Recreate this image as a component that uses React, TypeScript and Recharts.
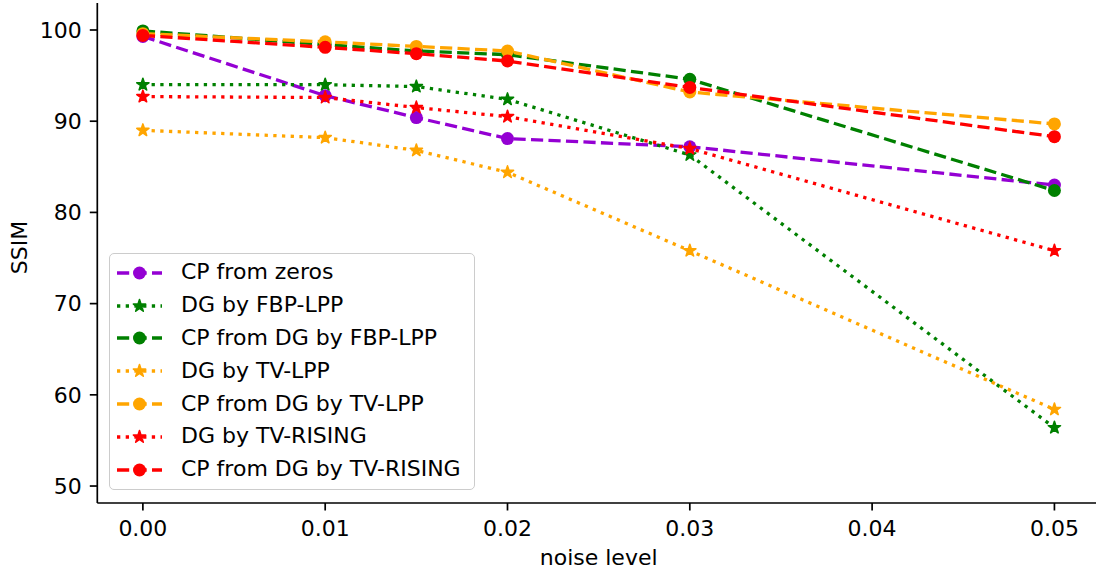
import React from 'react';
import { LineChart, Line, XAxis, YAxis, Legend } from 'recharts';

const noiseLevels = [0, 0.01, 0.015, 0.02, 0.03, 0.05];
const cpFromZeros = [99.3, 92.8, 90.4, 88.1, 87.2, 83.0];
const dgByFbpLpp = [94.0, 94.0, 93.8, 92.4, 86.3, 56.4];
const cpFromDgFbpLpp = [99.9, 98.4, 97.7, 97.3, 94.6, 82.4];
const dgByTvLpp = [89.0, 88.2, 86.8, 84.4, 75.8, 58.4];
const cpFromDgTvLpp = [99.6, 98.7, 98.2, 97.7, 93.2, 89.7];
const dgByTvRising = [92.7, 92.6, 91.5, 90.5, 87.0, 75.8];
const cpFromDgTvRising = [99.4, 98.1, 97.4, 96.6, 93.7, 88.3];

const xTicks = [0, 0.01, 0.02, 0.03, 0.04, 0.05];
const yTicks = [50, 60, 70, 80, 90, 100];

const FONT = '"DejaVu Sans", sans-serif';
const LW = 3.3;
const DASHED = '12.2 5.3';
const DOTTED = '3.3 5.4';

type Marker = 'circle' | 'star';
interface SeriesDef {
  key: string;
  name: string;
  color: string;
  dash: string;
  marker: Marker;
}

const series: SeriesDef[] = [
  { key: 'cpZeros', name: 'CP from zeros', color: '#9400D3', dash: DASHED, marker: 'circle' },
  { key: 'dgFbp', name: 'DG by FBP-LPP', color: '#008000', dash: DOTTED, marker: 'star' },
  { key: 'cpFbp', name: 'CP from DG by FBP-LPP', color: '#008000', dash: DASHED, marker: 'circle' },
  { key: 'dgTv', name: 'DG by TV-LPP', color: '#FFA500', dash: DOTTED, marker: 'star' },
  { key: 'cpTv', name: 'CP from DG by TV-LPP', color: '#FFA500', dash: DASHED, marker: 'circle' },
  { key: 'dgRising', name: 'DG by TV-RISING', color: '#FF0000', dash: DOTTED, marker: 'star' },
  { key: 'cpRising', name: 'CP from DG by TV-RISING', color: '#FF0000', dash: DASHED, marker: 'circle' },
];

const data = noiseLevels.map((x, i) => ({
  noise: x,
  cpZeros: cpFromZeros[i],
  dgFbp: dgByFbpLpp[i],
  cpFbp: cpFromDgFbpLpp[i],
  dgTv: dgByTvLpp[i],
  cpTv: cpFromDgTvLpp[i],
  dgRising: dgByTvRising[i],
  cpRising: cpFromDgTvRising[i],
}));

function starPoints(cx: number, cy: number, R: number, r: number) {
  const pts: string[] = [];
  for (let i = 0; i < 10; i++) {
    const a = -Math.PI / 2 + (i * Math.PI) / 5;
    const rad = i % 2 === 0 ? R : r;
    pts.push(`${cx + rad * Math.cos(a)},${cy + rad * Math.sin(a)}`);
  }
  return pts.join(' ');
}

function MarkerShape({ cx, cy, color, marker }: { cx: number; cy: number; color: string; marker: Marker }) {
  if (marker === 'circle') {
    return <circle cx={cx} cy={cy} r={6.5} fill={color} />;
  }
  return (
    <polygon
      points={starPoints(cx, cy, 6.4, 6.4 * 0.382)}
      fill={color}
      stroke={color}
      strokeWidth={1.6}
      strokeLinejoin="round"
    />
  );
}

function LegendBox() {
  return (
    <div
      style={{
        boxSizing: 'border-box',
        width: 366,
        height: 237.3,
        border: '1.5px solid #cccccc',
        borderRadius: 5,
        background: 'rgba(255,255,255,0.8)',
        paddingTop: 2.6,
        fontFamily: FONT,
        fontSize: 22,
        color: '#000',
      }}
    >
      {series.map((s) => (
        <div key={s.key} style={{ display: 'flex', alignItems: 'center', height: 32.83, lineHeight: '32.83px' }}>
          <svg width={46} height={20} style={{ marginLeft: 7, marginRight: 18, flex: 'none' }}>
            <line x1={0} y1={10} x2={45} y2={10} stroke={s.color} strokeWidth={LW} strokeDasharray={s.dash} />
            <MarkerShape cx={22.5} cy={10} color={s.color} marker={s.marker} />
          </svg>
          <span style={{ whiteSpace: 'nowrap' }}>{s.name}</span>
        </div>
      ))}
    </div>
  );
}

const tickStyle = { fill: '#000', fontSize: 22, fontFamily: FONT };
const axisStroke = { stroke: '#000', strokeWidth: 1.7 };

export default function App() {
  return (
    <div
      style={{
        position: 'absolute',
        left: 0,
        top: 0,
        width: 1096,
        height: 571,
        overflow: 'hidden',
        background: '#fff',
        fontFamily: FONT,
      }}
    >
      <LineChart width={1100} height={571} data={data} margin={{ top: 3, right: 0, left: 0, bottom: 0 }}>
        <XAxis
          dataKey="noise"
          type="number"
          domain={[-0.0025, 0.0525]}
          ticks={xTicks}
          tickFormatter={(v: number) => v.toFixed(2)}
          allowDataOverflow
          height={68}
          tick={tickStyle}
          tickSize={7.5}
          tickMargin={10}
          axisLine={axisStroke}
          tickLine={axisStroke}
          label={{ value: 'noise level', position: 'insideBottom', offset: 6, fill: '#000', fontSize: 22, fontFamily: FONT }}
        />
        <XAxis
          xAxisId="top"
          dataKey="noise"
          type="number"
          domain={[-0.0025, 0.0525]}
          orientation="top"
          height={0}
          tick={false}
          tickLine={false}
          axisLine={axisStroke}
        />
        <YAxis
          type="number"
          domain={[48.14, 102.96]}
          ticks={yTicks}
          allowDataOverflow
          width={97.3}
          tick={tickStyle}
          tickSize={7.5}
          tickMargin={8}
          axisLine={axisStroke}
          tickLine={axisStroke}
          label={{
            content: () => (
              <text
                transform="translate(27, 247.5) rotate(-90)"
                textAnchor="middle"
                fill="#000"
                fontSize={22}
                fontFamily={FONT}
              >
                SSIM
              </text>
            ),
          }}
        />
        {series.map((s) => (
          <Line
            key={s.key}
            type="linear"
            dataKey={s.key}
            name={s.name}
            stroke={s.color}
            strokeWidth={LW}
            strokeDasharray={s.dash}
            isAnimationActive={false}
            activeDot={false}
            dot={(p: any) => (
              <MarkerShape key={`${s.key}-${p.index}`} cx={p.cx} cy={p.cy} color={s.color} marker={s.marker} />
            )}
          />
        ))}
        <Legend
          layout="vertical"
          align="center"
          verticalAlign="middle"
          content={() => <LegendBox />}
          wrapperStyle={{ left: 109, top: 252.7, width: 366, height: 237.3 }}
        />
      </LineChart>
    </div>
  );
}
